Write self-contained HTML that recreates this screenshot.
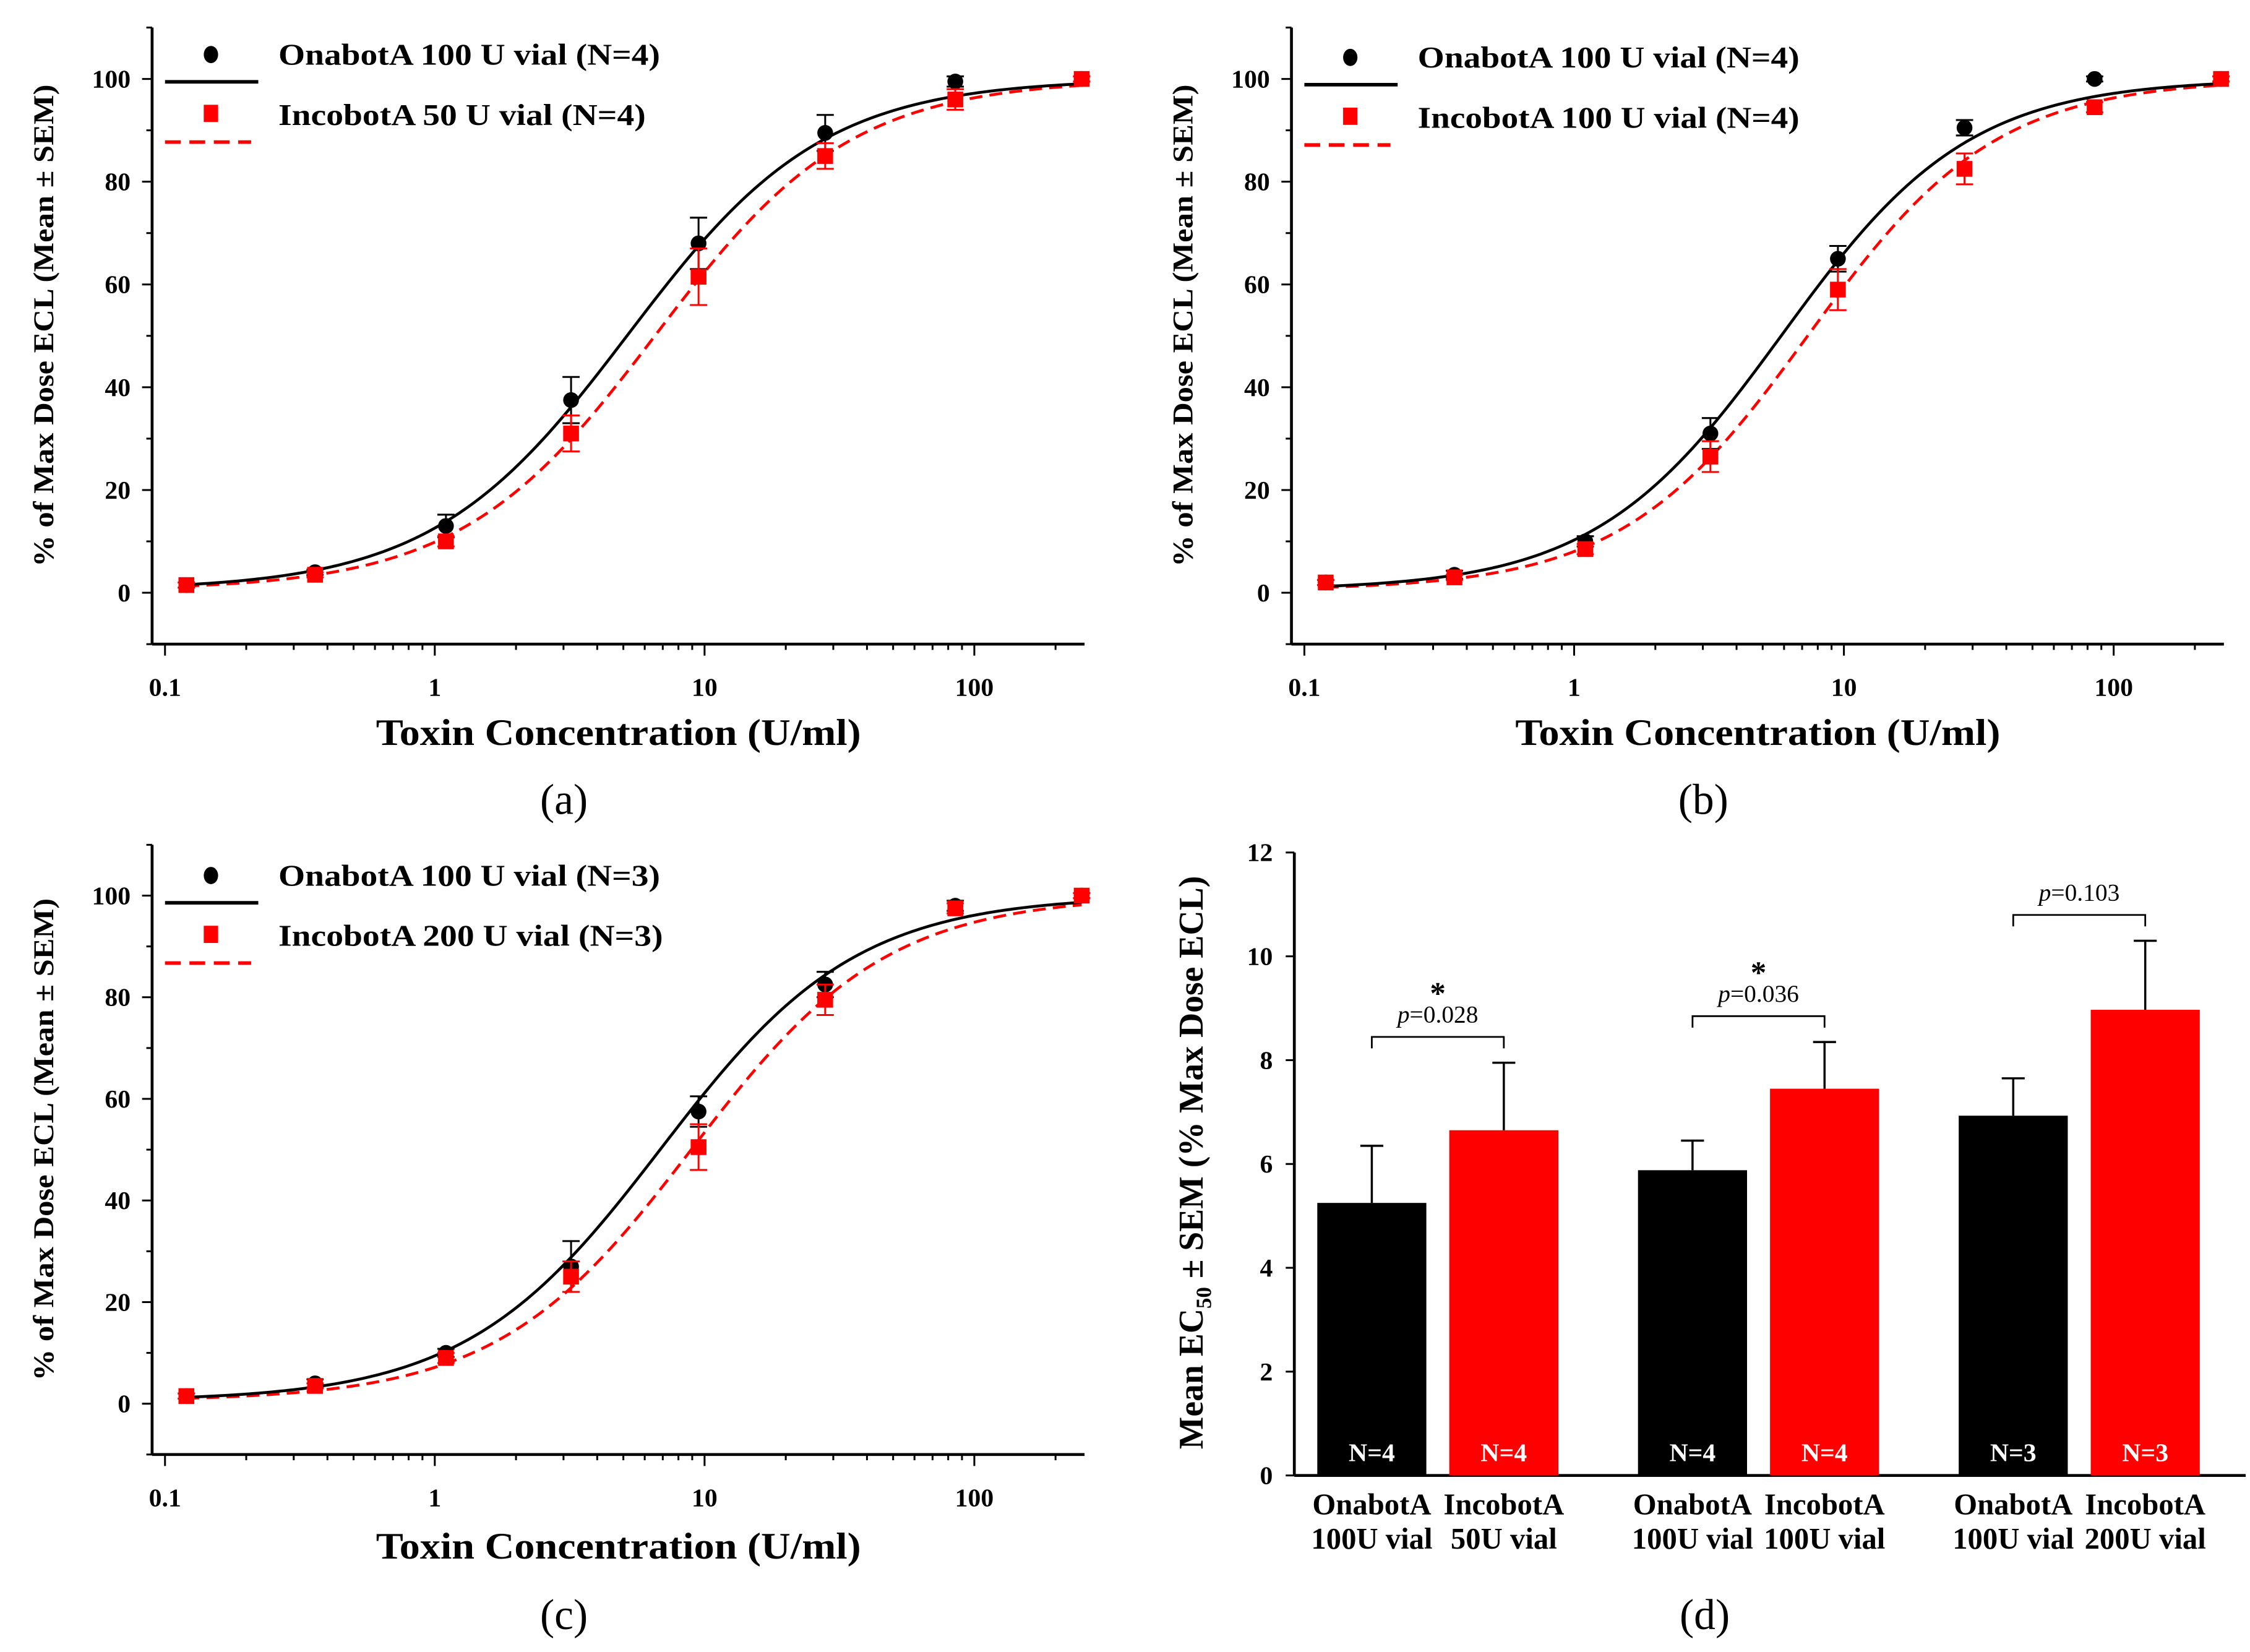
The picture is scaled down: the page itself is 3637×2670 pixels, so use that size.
<!DOCTYPE html>
<html><head><meta charset="utf-8"><style>
html,body{margin:0;padding:0;background:#fff;}
svg{display:block;}
text{font-family:"Liberation Serif",serif;font-weight:bold;fill:#000;}
</style></head><body>
<svg id="fig" width="3637" height="2670" viewBox="0 0 1568 1151" preserveAspectRatio="none" xmlns="http://www.w3.org/2000/svg"></svg>
<script>
// ---- Dose-response data ----
const concentrations = [0.12, 0.36, 1.1, 3.2, 9.5, 28, 85, 250];
const onaA = [1.5, 4, 13, 37.5, 68, 89.5, 99.5, 100];
const onaAErr = [0.5, 0.5, 2.2, 4.5, 5, 3.5, 1, 0.5];
const incoA = [1.5, 3.5, 10, 31, 61.5, 85, 96, 100];
const incoAErr = [0.5, 0.5, 1, 3.5, 5.5, 2.5, 2, 0.5];
const onaB = [2, 3.5, 10, 31, 65, 90.5, 100, 100];
const onaBErr = [0.5, 0.8, 1, 3, 2.5, 1.5, 0.5, 0.5];
const incoB = [2, 3, 8.5, 26.5, 59, 82.5, 94.5, 100];
const incoBErr = [0.5, 0.5, 1, 3, 4, 3, 1, 0.5];
const onaC = [1.5, 4, 10, 27, 57.5, 82.5, 98, 100];
const onaCErr = [0.5, 0.8, 0.8, 5, 3, 2.5, 1, 0.5];
const incoC = [1.5, 3.5, 9, 25, 50.5, 79.5, 97.5, 100];
const incoCErr = [0.5, 0.5, 1, 3, 4.5, 3, 1, 0.5];
// 4PL fit parameters [bottom, top, EC50, hill]
const fitOnaA = [0.5, 100, 5.2, 1.2];
const fitIncoA = [0.5, 100, 6.6, 1.2];
const fitOnaB = [0.5, 100, 5.9, 1.25];
const fitIncoB = [0.5, 100, 7.4, 1.25];
const fitOnaC = [0.5, 100, 6.9, 1.2];
const fitIncoC = [0.5, 100, 9.0, 1.2];
const yTicks = [0, 20, 40, 60, 80, 100];
const xTicks = [0.1, 1, 10, 100];
const xTickLabels = ["0.1", "1", "10", "100"];
// ---- Bar chart data ----
const barCategories = [["OnabotA","100U vial"],["IncobotA","50U vial"],["OnabotA","100U vial"],["IncobotA","100U vial"],["OnabotA","100U vial"],["IncobotA","200U vial"]];
const barValues = [5.25, 6.65, 5.88, 7.45, 6.93, 8.97];
const barErrors = [1.1, 1.3, 0.57, 0.9, 0.72, 1.33];
const barN = ["N=4","N=4","N=4","N=4","N=3","N=3"];
const pLabels = ["p=0.028","p=0.036","p=0.103"];
const pStars = ["*","*",""];
const barYTicks = [0, 2, 4, 6, 8, 10, 12];

const NS = "http://www.w3.org/2000/svg";
const svg = document.getElementById('fig');
function mk(tag, attrs, parent) {
  const e = document.createElementNS(NS, tag);
  for (const k in attrs) e.setAttribute(k, attrs[k]);
  (parent || svg).appendChild(e);
  return e;
}
function txt(str, attrs, parent) { const e = mk('text', attrs, parent); e.textContent = str; return e; }

function panel(cfg) {
  const g = mk('g', {});
  
  
  const X = v => cfg.x01 + (Math.log10(v) + 1) * cfg.dec;
  const Y = v => cfg.y0 - v * cfg.per;
  const axL = cfg.x01 - 9, axR = X(250) + 2, axB = Y(-10), axT = Y(110);
  let e = mk('line', {x1: axL, y1: axT, x2: axL, y2: axB, stroke: '#000', 'stroke-width': 2}, g);
   
  e = mk('line', {x1: axL, y1: axB, x2: axR, y2: axB, stroke: '#000', 'stroke-width': 2}, g);
   
  for (let v = -10; v <= 110; v += 10) {
    const major = v % 20 === 0 && v >= 0 && v <= 100;
    mk('line', {x1: axL - (major ? 7 : 4), y1: Y(v), x2: axL, y2: Y(v), stroke: '#000', 'stroke-width': 1.3}, g);
  }
  yTicks.forEach(v => {
    const t = txt(String(v), {x: axL - 15, y: Y(v) + 6, 'font-size': 18, 'text-anchor': 'end'}, g);
     
  });
  for (let d = -1; d <= 2; d++) for (let m = 1; m <= 9; m++) {
    const v = m * Math.pow(10, d); if (v > 250) continue;
    mk('line', {x1: X(v), y1: axB, x2: X(v), y2: axB + (m === 1 ? 8 : 4), stroke: '#000', 'stroke-width': 1.3}, g);
  }
  xTicks.forEach((v, i) => {
    const t = txt(xTickLabels[i], {x: X(v), y: axB + 36, 'font-size': 18, 'text-anchor': 'middle'}, g);
     
  });
  let t = txt('Toxin Concentration (U/ml)', {x: cfg.x01 + 316, y: cfg.titleY, 'font-size': 26, 'text-anchor': 'middle', textLength: 338, lengthAdjust: 'spacingAndGlyphs'}, g);
   
  t = txt('% of Max Dose ECL (Mean ± SEM)', {x: 0, y: 0, 'font-size': 20, 'text-anchor': 'middle', textLength: 336, lengthAdjust: 'spacingAndGlyphs', transform: `translate(${cfg.x01 - 78},${Y(52)}) rotate(-90)`}, g);
   
  t = txt('(' + cfg.letter + ')', {x: cfg.x01 + 278, y: cfg.letterY, 'font-size': 30, 'text-anchor': 'middle', style: 'font-weight:normal'}, g);
   
  function curve(p, color, dash, name) {
    let d = '';
    for (let i = 0; i <= 200; i++) {
      const lx = Math.log10(0.12) + (Math.log10(250) - Math.log10(0.12)) * i / 200;
      const x = Math.pow(10, lx);
      const y = p[0] + (p[1] - p[0]) / (1 + Math.pow(p[2] / x, p[3]));
      d += (i ? 'L' : 'M') + X(x).toFixed(2) + ',' + Y(y).toFixed(2);
    }
    const c = mk('path', {d: d, fill: 'none', stroke: color, 'stroke-width': 2, 'stroke-dasharray': dash}, g);
     
  }
  curve(cfg.fitI, '#ff0000', '9,5', 'incobot-fit-curve');
  curve(cfg.fitO, '#000', 'none', 'onabot-fit-curve');
  function pts(vals, errs, color, square, name) {
    vals.forEach((v, i) => {
      const x = X(concentrations[i]), y = Y(v), ye = Y(v + errs[i]), yl = Y(v - errs[i]);
      mk('line', {x1: x, y1: ye, x2: x, y2: yl, stroke: color, 'stroke-width': 1.3}, g);
      mk('line', {x1: x - 6, y1: ye, x2: x + 6, y2: ye, stroke: color, 'stroke-width': 1.3}, g);
      mk('line', {x1: x - 6, y1: yl, x2: x + 6, y2: yl, stroke: color, 'stroke-width': 1.3}, g);
      let m;
      if (square) m = mk('rect', {x: x - 5.5, y: y - 5.5, width: 11, height: 11, fill: color}, g);
      else m = mk('circle', {cx: x, cy: y, r: 5.5, fill: color}, g);
       
    });
  }
  pts(cfg.ona, cfg.onaE, '#000', false, 'onabot-point');
  pts(cfg.inco, cfg.incoE, '#ff0000', true, 'incobot-point');
  const lx = cfg.x01, ly = cfg.legY;
  const lg = mk('g', {}, g);
   
  mk('ellipse', {cx: lx + 32, cy: ly, rx: 5, ry: 6, fill: '#000'}, lg);
  mk('line', {x1: lx, y1: ly + 19, x2: lx + 65, y2: ly + 19, stroke: '#000', 'stroke-width': 2.5}, lg);
  t = txt(cfg.leg1, {x: lx + 79, y: ly + 7, 'font-size': 21, textLength: cfg.len1, lengthAdjust: 'spacingAndGlyphs'}, lg);
   
  mk('rect', {x: lx + 27, y: ly + 35, width: 10, height: 12, fill: '#ff0000'}, lg);
  mk('line', {x1: lx, y1: ly + 61, x2: lx + 60, y2: ly + 61, stroke: '#ff0000', 'stroke-width': 2.5, 'stroke-dasharray': '11,6'}, lg);
  t = txt(cfg.leg2, {x: lx + 79, y: ly + 49, 'font-size': 21, textLength: cfg.len2, lengthAdjust: 'spacingAndGlyphs'}, lg);
   
}

panel({letter: 'a', x01: 115, dec: 188, y0: 413, per: 3.58, titleY: 519, letterY: 567, legY: 38,
  ona: onaA, onaE: onaAErr, inco: incoA, incoE: incoAErr, fitO: fitOnaA, fitI: fitIncoA,
  leg1: 'OnabotA 100 U vial (N=4)', leg2: 'IncobotA 50 U vial (N=4)', len1: 266, len2: 256});
panel({letter: 'b', x01: 909, dec: 188, y0: 413, per: 3.58, titleY: 519, letterY: 567, legY: 40,
  ona: onaB, onaE: onaBErr, inco: incoB, incoE: incoBErr, fitO: fitOnaB, fitI: fitIncoB,
  leg1: 'OnabotA 100 U vial (N=4)', leg2: 'IncobotA 100 U vial (N=4)', len1: 266, len2: 266});
panel({letter: 'c', x01: 115, dec: 188, y0: 978, per: 3.54, titleY: 1086, letterY: 1135, legY: 610,
  ona: onaC, onaE: onaCErr, inco: incoC, incoE: incoCErr, fitO: fitOnaC, fitI: fitIncoC,
  leg1: 'OnabotA 100 U vial (N=3)', leg2: 'IncobotA 200 U vial (N=3)', len1: 266, len2: 268});

// ---- Panel d: bars ----
(function () {
  const g = mk('g', {});
   
  const y0 = 1028, per = 36.17, axL = 902;
  const Y = v => y0 - v * per;
  const barW = 76;
  const barX = i => 918 + Math.floor(i / 2) * 223.5 + (i % 2) * 92;
  let e = mk('line', {x1: axL, y1: Y(12), x2: axL, y2: y0, stroke: '#000', 'stroke-width': 2}, g);
   
  e = mk('line', {x1: axL, y1: y0, x2: 1565, y2: y0, stroke: '#000', 'stroke-width': 2}, g);
   
  barYTicks.forEach(v => {
    mk('line', {x1: axL - 6, y1: Y(v), x2: axL, y2: Y(v), stroke: '#000', 'stroke-width': 1.3}, g);
    const t = txt(String(v), {x: axL - 15, y: Y(v) + 6, 'font-size': 18, 'text-anchor': 'end'}, g);
     
  });
  let t = txt('Mean EC', {x: 0, y: 0, 'font-size': 24, 'text-anchor': 'middle', transform: 'translate(838,810) rotate(-90)'}, g);
  const ts = mk('tspan', {'font-size': 15, dy: 6}, t); ts.textContent = '50';
  const ts2 = mk('tspan', {dy: -6}, t); ts2.textContent = ' ± SEM (% Max Dose ECL)';
   
  barValues.forEach((v, i) => {
    const x = barX(i), col = i % 2 ? '#ff0000' : '#000';
    const top = Y(v + barErrors[i]), cx = x + barW / 2;
    mk('line', {x1: cx, y1: Y(v), x2: cx, y2: top, stroke: '#000', 'stroke-width': 1.5}, g);
    mk('line', {x1: cx - 8, y1: top, x2: cx + 8, y2: top, stroke: '#000', 'stroke-width': 1.5}, g);
    const r = mk('rect', {x: x, y: Y(v), width: barW, height: y0 - Y(v), fill: col}, g);
    
    
    let n = txt(barN[i], {x: cx, y: 1018, 'font-size': 18, 'text-anchor': 'middle', style: 'fill:#fff'}, g);
     
    n = txt(barCategories[i][0], {x: cx, y: 1055, 'font-size': 21, 'text-anchor': 'middle'}, g);
     
    n = txt(barCategories[i][1], {x: cx, y: 1079, 'font-size': 21, 'text-anchor': 'middle'}, g);
     
  });
  pLabels.forEach((p, k) => {
    const i0 = 2 * k, i1 = 2 * k + 1;
    const xa = barX(i0) + barW / 2, xb = barX(i1) + barW / 2;
    const by = Y(Math.max(barValues[i0] + barErrors[i0], barValues[i1] + barErrors[i1])) - 18;
    const b = mk('path', {d: `M${xa},${by + 8}V${by}H${xb}V${by + 8}`, fill: 'none', stroke: '#000', 'stroke-width': 1.2}, g);
     
    const pt = txt('', {x: (xa + xb) / 2, y: by - 10, 'font-size': 17, 'text-anchor': 'middle', style: 'font-weight:normal'}, g);
    const i1s = mk('tspan', {'font-style': 'italic'}, pt); i1s.textContent = 'p';
    const i2s = mk('tspan', {}, pt); i2s.textContent = p.slice(1);
     
    if (pStars[k]) {
      const s = txt(pStars[k], {x: (xa + xb) / 2, y: by - 23, 'font-size': 22, 'text-anchor': 'middle'}, g);
       
    }
  });
  t = txt('(d)', {x: 1188, y: 1135, 'font-size': 30, 'text-anchor': 'middle', style: 'font-weight:normal'}, g);
   
})();
</script>
</body></html>
